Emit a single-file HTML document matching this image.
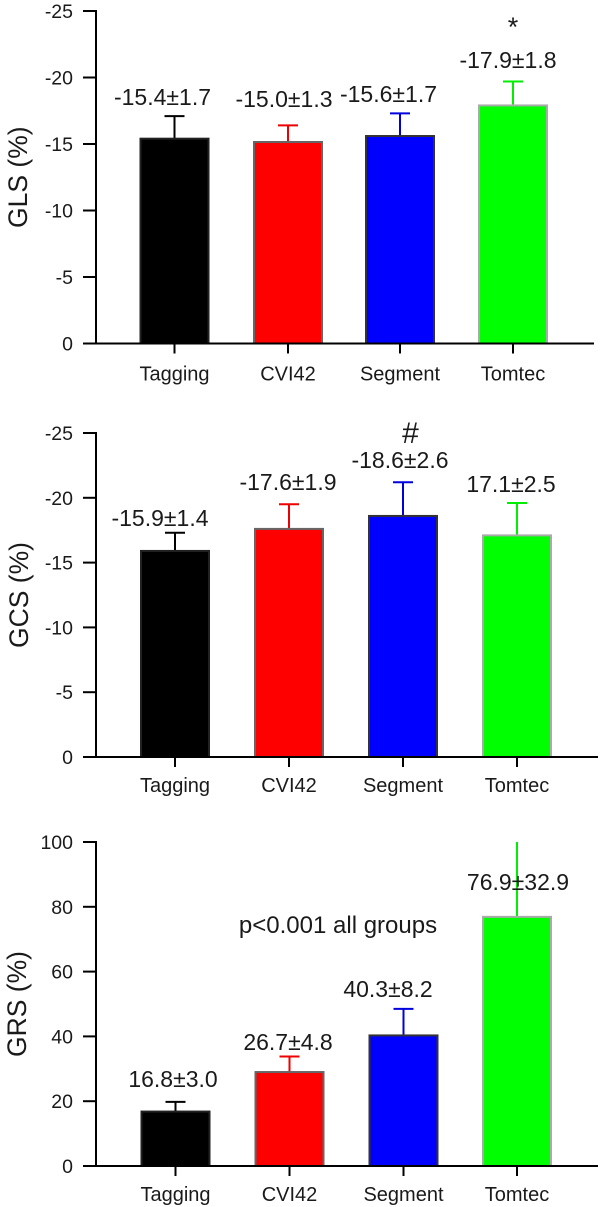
<!DOCTYPE html>
<html>
<head>
<meta charset="utf-8">
<style>
html,body{margin:0;padding:0;background:#fff;width:602px;height:1207px;overflow:hidden}
svg{display:block}
text{font-family:"Liberation Sans",Arial,sans-serif;fill:#1a1a1a}
</style>
</head>
<body>
<svg id="figure" width="602" height="1207" viewBox="0 0 602 1207" xmlns="http://www.w3.org/2000/svg"></svg>
<script>
// Data
var categories = ['Tagging', 'CVI42', 'Segment', 'Tomtec'];
var glsValues = [15.4, 15.15, 15.6, 17.9];
var glsErrorTops = [17.1, 16.4, 17.3, 19.7];
var glsLabels = ['-15.4±1.7', '-15.0±1.3', '-15.6±1.7', '-17.9±1.8'];
var gcsValues = [15.9, 17.6, 18.6, 17.1];
var gcsErrorTops = [17.3, 19.5, 21.2, 19.6];
var gcsLabels = ['-15.9±1.4', '-17.6±1.9', '-18.6±2.6', '17.1±2.5'];
var grsValues = [16.8, 29, 40.3, 76.9];
var grsErrorTops = [19.8, 33.8, 48.5, 100];
var grsLabels = ['16.8±3.0', '26.7±4.8', '40.3±8.2', '76.9±32.9'];
var glsTicks = [0, 5, 10, 15, 20, 25];
var gcsTicks = [0, 5, 10, 15, 20, 25];
var grsTicks = [0, 20, 40, 60, 80, 100];

var NS = 'http://www.w3.org/2000/svg';
var fig = document.getElementById('figure');
var fills = ['#000000', '#ff0000', '#0000ff', '#00ff00'];
var edges = ['#222222', '#666666', '#333333', '#aaaaaa'];
var errs = ['#000000', '#ee0000', '#0000dd', '#00ee00'];

function make(tag, attrs, parent) {
  var el = document.createElementNS(NS, tag);
  for (var k in attrs) { el.setAttribute(k, attrs[k]); }
  parent.appendChild(el);
  return el;
}
function label(str, x, y, size, anchor, parent) {
  var t = make('text', { x: x, y: y, 'font-size': size, 'text-anchor': anchor }, parent);
  t.textContent = str;
  return t;
}

function drawPanel(cfg) {
  var g = make('g', {}, fig);
  
  
  var y = function (v) { return cfg.y0 + (cfg.yMax - v) / cfg.domain * (cfg.yBase - cfg.y0); };

  // Bars and error bars
  cfg.values.forEach(function (v, i) {
    var cx = cfg.centers[i];
    var top = y(v);
    var errTop = y(cfg.errTops[i]);
    var err = make('g', { stroke: errs[i], 'stroke-width': 2 }, g);
    
    
    make('line', { x1: cx, x2: cx, y1: errTop, y2: top }, err);
    if (cfg.errTops[i] < cfg.domain) {
      make('line', { x1: cx - 10, x2: cx + 10, y1: errTop, y2: errTop }, err);
    }
    var bar = make('rect', {
      x: cx - 34, y: top, width: 68, height: cfg.yBase - top,
      fill: fills[i], stroke: edges[i], 'stroke-width': 2
    }, g);
    
    
  });

  // Axes
  var yAxis = make('line', { x1: 96, x2: 96, y1: cfg.y0 - 1, y2: cfg.yBase + 1, stroke: '#000', 'stroke-width': 2 }, g);
  
  
  var xAxis = make('line', { x1: 83, x2: cfg.xEnd, y1: cfg.yBase, y2: cfg.yBase, stroke: '#000', 'stroke-width': 2 }, g);
  
  

  cfg.ticks.forEach(function (t) {
    var py = y(t);
    var tick = make('line', { x1: 83, x2: 96, y1: py, y2: py, stroke: '#000', 'stroke-width': 2 }, g);
    
    
    var lab = label((cfg.negative && t !== 0 ? '-' : '') + t, 73, py + 7, 19.5, 'end', g);
    
    
  });

  categories.forEach(function (c, i) {
    var cx = cfg.centers[i];
    var tick = make('line', { x1: cx, x2: cx, y1: cfg.yBase, y2: cfg.yBase + 10, stroke: '#000', 'stroke-width': 2 }, g);
    
    
    var lab = label(c, cx, cfg.yBase + cfg.catOffset, 20, 'middle', g);
    
    
    var val = label(cfg.labels[i], cfg.labelX[i], cfg.labelY[i], 23, 'middle', g);
    
    
  });

  // Axis title
  var title = label(cfg.title, 0, 0, 26.5, 'start', g);
  title.setAttribute('transform', 'translate(' + cfg.titleX + ' ' + cfg.titleY + ') rotate(-90)');
  
  
  return g;
}

var p1 = drawPanel({
  name: 'gls', y0: 11, yBase: 343.5, yMax: 25, domain: 25, negative: true,
  values: glsValues, errTops: glsErrorTops, labels: glsLabels, ticks: glsTicks,
  centers: [174.5, 288, 400, 513], xEnd: 594, catOffset: 37,
  labelX: [162.5, 284, 388.5, 508], labelY: [105, 107, 102, 68],
  title: 'GLS (%)', titleX: 27, titleY: 228
});
var p2 = drawPanel({
  name: 'gcs', y0: 433, yBase: 757, yMax: 25, domain: 25, negative: true,
  values: gcsValues, errTops: gcsErrorTops, labels: gcsLabels, ticks: gcsTicks,
  centers: [175, 289, 403, 517], xEnd: 598, catOffset: 35,
  labelX: [160, 288, 400, 511], labelY: [526, 490, 468, 492],
  title: 'GCS (%)', titleX: 28, titleY: 648
});
var p3 = drawPanel({
  name: 'grs', y0: 842, yBase: 1166, yMax: 100, domain: 100, negative: false,
  values: grsValues, errTops: grsErrorTops, labels: grsLabels, ticks: grsTicks,
  centers: [175.5, 289.5, 403.5, 517], xEnd: 598, catOffset: 35,
  labelX: [173, 288, 388, 518], labelY: [1087, 1050, 997, 890],
  title: 'GRS (%)', titleX: 26, titleY: 1057
});

var star = label('*', 513, 36, 27, 'middle', p1);


var hash = label('#', 410.5, 443, 30, 'middle', p2);


var note = label('p<0.001 all groups', 338, 933, 24, 'middle', p3);


</script>
</body>
</html>
